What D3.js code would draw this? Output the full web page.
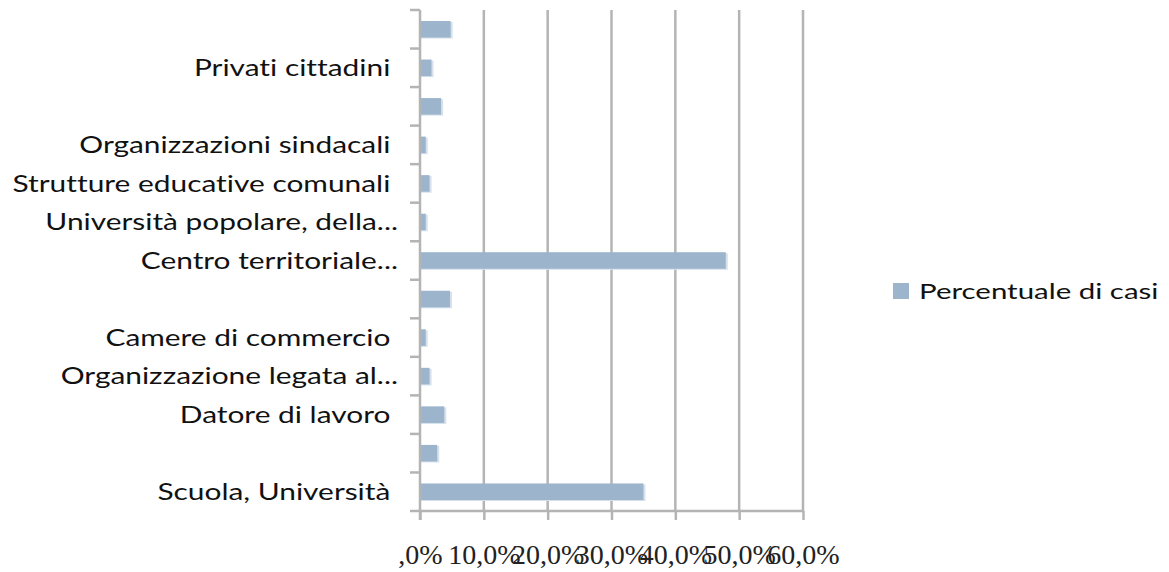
<!DOCTYPE html>
<html>
<head>
<meta charset="utf-8">
<script src="https://cdn.jsdelivr.net/npm/d3@7/dist/d3.min.js"></script>
<style>
  html, body { margin: 0; padding: 0; background: #ffffff; }
  svg { display: block; }
  text { white-space: pre; font-variant-ligatures: none; }
</style>
</head>
<body>
<div id="chart"></div>
<script>
// Categories listed from top to bottom as shown
const categories = [
  "",
  "Privati cittadini ",
  "",
  "Organizzazioni sindacali ",
  "Strutture educative comunali ",
  "Università popolare, della...",
  "Centro territoriale...",
  "",
  "Camere di commercio ",
  "Organizzazione legata al...",
  "Datore di lavoro ",
  "",
  "Scuola, Università "
];
const percentuale = [4.8, 1.8, 3.3, 0.9, 1.5, 0.9, 47.9, 4.7, 0.9, 1.5, 3.8, 2.7, 35.0];
const tickValues = [0, 10, 20, 30, 40, 50, 60];
const tickLabels = [",0%", "10,0%", "20,0%", "30,0%", "40,0%", "50,0%", "60,0%"];
const seriesName = "Percentuale di casi";

const W = 1169, H = 572;
const plot = { left: 420, right: 803, top: 10, bottom: 511 };
const stretch = 1.3;

const svg = d3.select("#chart").append("svg").attr("width", W).attr("height", H);

const x = d3.scaleLinear().domain([0, 60]).range([plot.left, plot.right]);
const y = d3.scaleBand().domain(d3.range(categories.length)).range([plot.top, plot.bottom]).padding(0);

const gridColor = "#b4b4b4";

// vertical gridlines
svg.append("g").selectAll("line").data(tickValues.slice(1)).join("line")
  .attr("x1", d => x(d)).attr("x2", d => x(d))
  .attr("y1", plot.top).attr("y2", plot.bottom)
  .attr("stroke", gridColor).attr("stroke-width", 2.5);

// bars (shadow + fill)
const barH = y.bandwidth() * 0.43;
const bars = svg.append("g");
bars.selectAll("rect.sh").data(percentuale).join("rect").attr("class", "sh")
  .attr("x", x(0)).attr("y", (d, i) => y(i) + (y.bandwidth() - barH) / 2 + 1)
  .attr("width", d => x(d) - x(0) + 2).attr("height", barH)
  .attr("fill", "#d6e1ec");
bars.selectAll("rect.b").data(percentuale).join("rect").attr("class", "b")
  .attr("x", x(0)).attr("y", (d, i) => y(i) + (y.bandwidth() - barH) / 2)
  .attr("width", d => x(d) - x(0)).attr("height", barH)
  .attr("fill", "#9cb5cd");

// bottom axis
const xAxis = d3.axisBottom(x).tickValues(tickValues).tickSize(9).tickPadding(0)
  .tickFormat((d, i) => tickLabels[i]);
const gx = svg.append("g").attr("transform", `translate(0,${plot.bottom})`).call(xAxis);
gx.select(".domain").attr("d", `M${plot.left - 10},0H${plot.right}`).attr("stroke", gridColor).attr("stroke-width", 2.5);
gx.selectAll(".tick line").attr("stroke", gridColor).attr("stroke-width", 2.5);
gx.selectAll(".tick text")
  .attr("y", 53).attr("dy", 0)
  .attr("font-family", "'Liberation Serif', 'DejaVu Serif', serif")
  .attr("font-size", 28)
  .attr("fill", "#222");

// left axis
const yAxis = d3.axisLeft(y).tickSize(0).tickPadding(0).tickFormat(i => categories[i]);
const gy = svg.append("g").attr("transform", `translate(${plot.left},0)`).call(yAxis);
gy.select(".domain").attr("d", `M0,${plot.top}V${plot.bottom + 9}`).attr("stroke", gridColor).attr("stroke-width", 2.5);
gy.selectAll(".tick text")
  .attr("x", 0)
  .attr("dy", "0.36em")
  .attr("transform", `translate(-22,0) scale(${stretch},1)`)
  .attr("font-family", "Lato, 'Open Sans', sans-serif")
  .attr("font-size", 23)
  .attr("fill", "#111");
// category boundary ticks
svg.append("g").selectAll("line").data(d3.range(categories.length)).join("line")
  .attr("x1", plot.left - 10).attr("x2", plot.left)
  .attr("y1", i => y(i)).attr("y2", i => y(i))
  .attr("stroke", gridColor).attr("stroke-width", 2.5);

// legend
const lg = svg.append("g").attr("transform", "translate(893,283)");
lg.append("rect").attr("width", 16).attr("height", 16).attr("fill", "#9cb5cd");
lg.append("text").attr("x", 0).attr("y", 8).attr("dy", "0.36em")
  .attr("transform", `translate(26,0) scale(${stretch * 1.03},1)`)
  .attr("font-family", "Lato, 'Open Sans', sans-serif").attr("font-size", 22)
  .attr("fill", "#111").text(seriesName);
</script>
</body>
</html>
